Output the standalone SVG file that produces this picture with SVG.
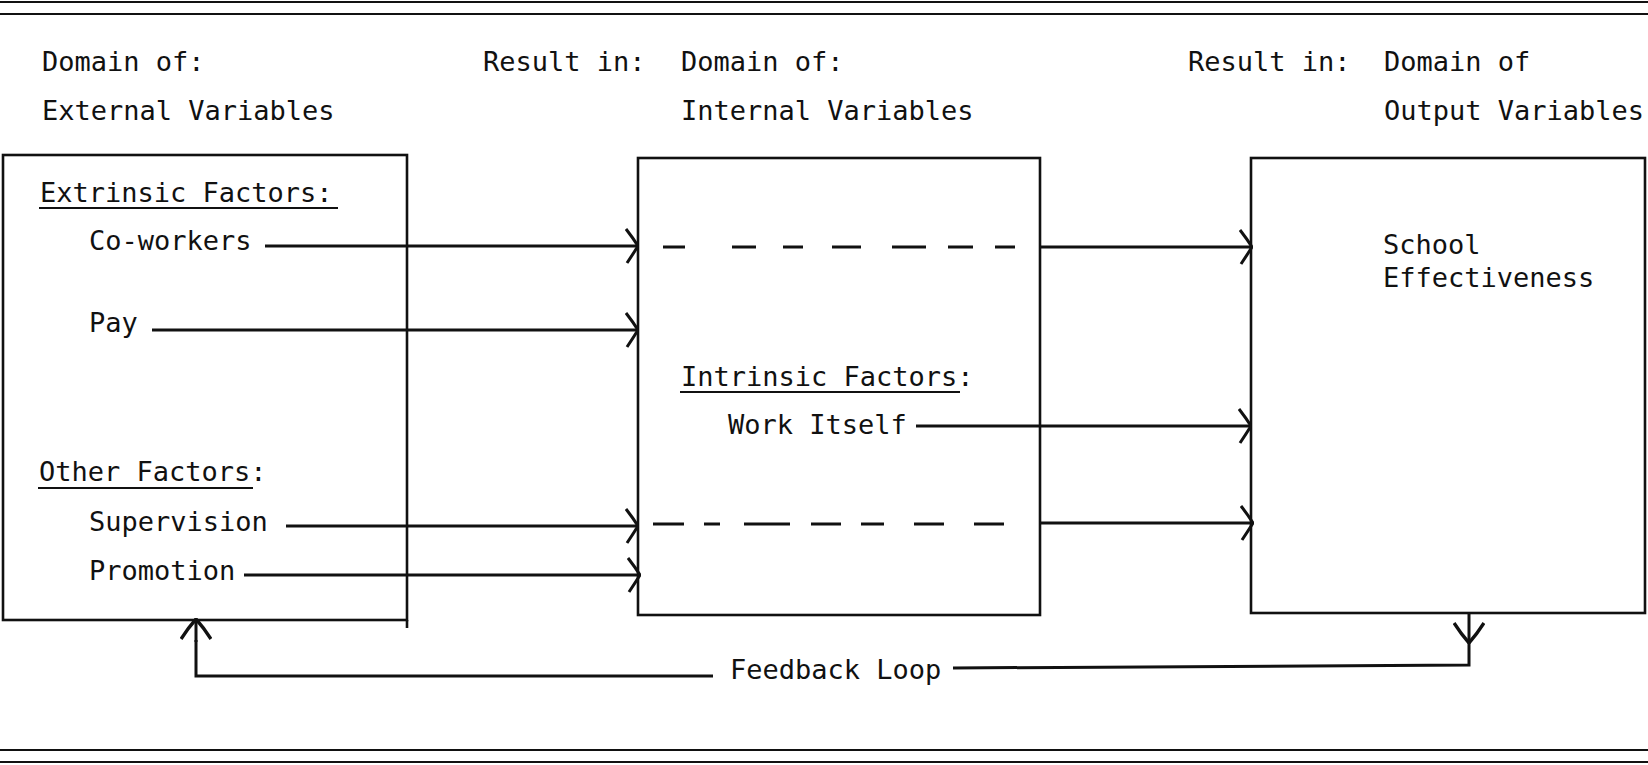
<svg xmlns="http://www.w3.org/2000/svg" width="1648" height="765" viewBox="0 0 1648 765">
<style>
text{font-family:"DejaVu Sans Mono","Liberation Mono",monospace;font-size:27px;fill:#111}
.box{fill:none;stroke:#111;stroke-width:2.6}
.rule{stroke:#111;stroke-width:2;fill:none}
.ln{stroke:#111;stroke-width:3;fill:none}
.ul{stroke:#111;stroke-width:2}
.dash{stroke:#111;stroke-width:3;fill:none}
</style>
<defs>
<marker id="ah" viewBox="0 0 14 36" refX="13" refY="18" markerWidth="14" markerHeight="36" markerUnits="userSpaceOnUse" orient="auto">
<path d="M1,1 Q8,10 13,18 Q8,26 2,35" fill="none" stroke="#111" stroke-width="3"/>
</marker>
<marker id="ahv" viewBox="0 0 22 32" refX="21" refY="16" markerWidth="22" markerHeight="32" markerUnits="userSpaceOnUse" orient="auto">
<path d="M1,1 Q12,8 21,16 Q12,24 1,31" fill="none" stroke="#111" stroke-width="3.4"/>
</marker>
</defs>
<rect width="1648" height="765" fill="#fff"/>
<g id="rules">
<line class="rule" x1="0" y1="2" x2="1648" y2="2"/>
<line class="rule" x1="0" y1="14" x2="1648" y2="14"/>
<line class="rule" x1="0" y1="750" x2="1648" y2="750"/>
<line class="rule" x1="0" y1="762" x2="1648" y2="762"/>
</g>
<g id="headers">
<text x="42" y="71">Domain of:</text>
<text x="42" y="120">External Variables</text>
<text x="483" y="71">Result in:</text>
<text x="681" y="71">Domain of:</text>
<text x="681" y="120">Internal Variables</text>
<text x="1188" y="71">Result in:</text>
<text x="1384" y="71">Domain of</text>
<text x="1384" y="120">Output Variables</text>
</g>
<g id="external">
<rect class="box" x="3" y="155" width="404" height="465"/>
<line class="box" x1="407" y1="620" x2="407" y2="628"/>
<text x="40" y="202">Extrinsic Factors:</text>
<line class="ul" x1="39" y1="208" x2="338" y2="208"/>
<text x="89" y="250">Co-workers</text>
<text x="89" y="332">Pay</text>
<text x="39" y="481">Other Factors:</text>
<line class="ul" x1="38" y1="488" x2="253" y2="488"/>
<text x="89" y="531">Supervision</text>
<text x="89" y="580">Promotion</text>
</g>
<g id="internal">
<rect class="box" x="638" y="158" width="402" height="457"/>
<text x="681" y="386">Intrinsic Factors:</text>
<line class="ul" x1="680" y1="392" x2="960" y2="392"/>
<text x="728" y="434">Work Itself</text>
<path class="dash" d="M663,247h22M732,247h24M783,247h20M832,247h29M892,247h34M948,247h25M995,247h20"/>
<path class="dash" d="M653,524h31M704,524h16M744,524h46M811,524h30M861,524h23M914,524h30M974,524h30"/>
</g>
<g id="output">
<rect class="box" x="1251" y="158" width="394" height="455"/>
<text x="1383" y="254">School</text>
<text x="1383" y="287">Effectiveness</text>
</g>
<g id="connectors">
<line class="ln" x1="265" y1="246" x2="638" y2="246" marker-end="url(#ah)"/>
<line class="ln" x1="152" y1="330" x2="638" y2="330" marker-end="url(#ah)"/>
<line class="ln" x1="286" y1="526" x2="638" y2="526" marker-end="url(#ah)"/>
<line class="ln" x1="244" y1="575" x2="640" y2="575" marker-end="url(#ah)"/>
<line class="ln" x1="1040" y1="247" x2="1252" y2="247" marker-end="url(#ah)"/>
<line class="ln" x1="916" y1="426" x2="1251" y2="426" marker-end="url(#ah)"/>
<line class="ln" x1="1040" y1="523" x2="1253" y2="523" marker-end="url(#ah)"/>
<line class="ln" x1="1469" y1="613" x2="1469" y2="643" marker-end="url(#ahv)"/>
<polyline class="ln" points="1469,640 1469,665 953,668"/>
<polyline class="ln" points="713,676 196,676 196,640"/>
<line class="ln" x1="196" y1="642" x2="196" y2="619" marker-end="url(#ahv)"/>
<text x="730" y="679">Feedback Loop</text>
</g>
</svg>
